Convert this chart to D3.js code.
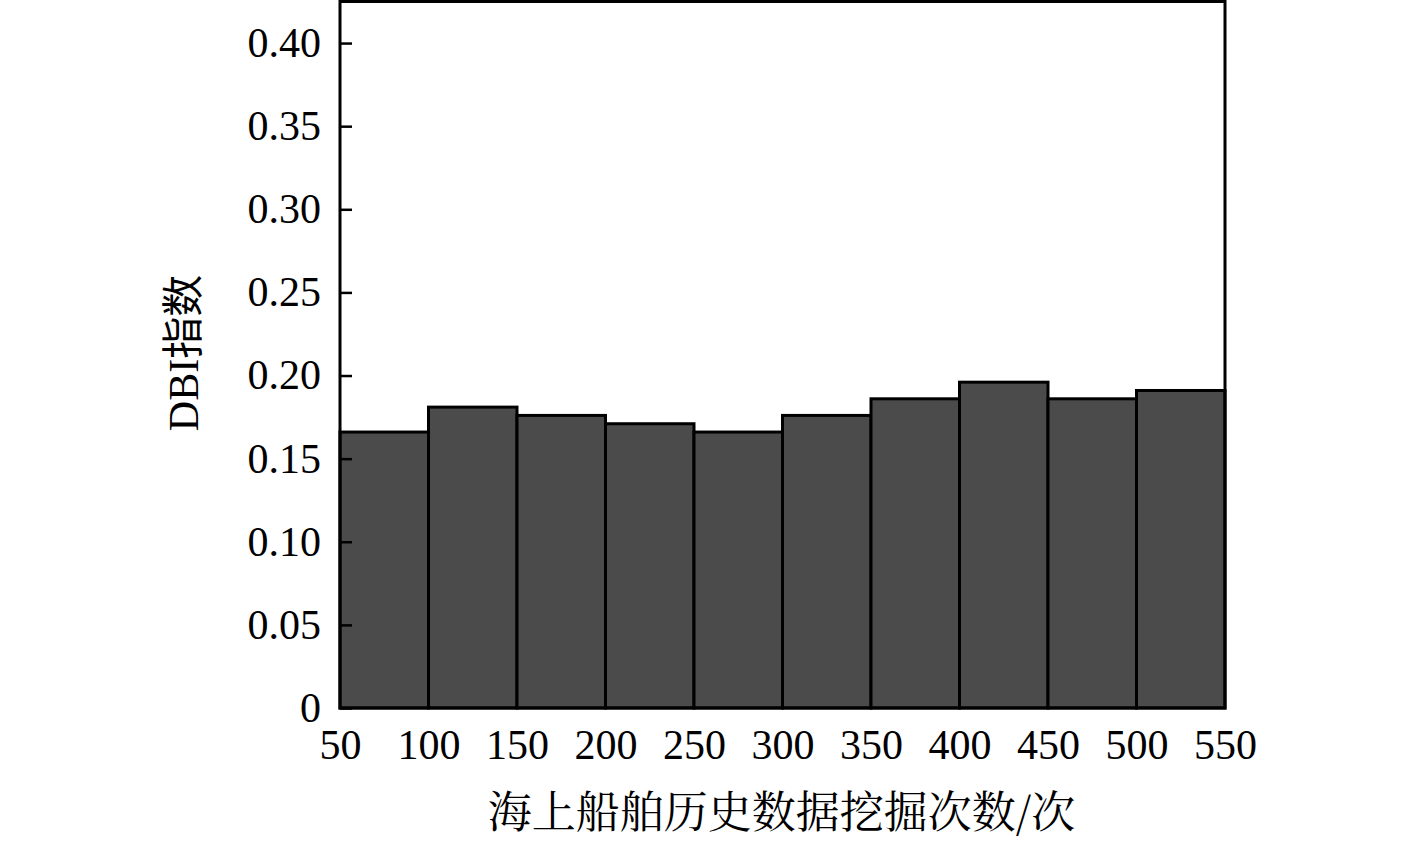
<!DOCTYPE html>
<html><head><meta charset="utf-8">
<script src="https://cdn.jsdelivr.net/npm/d3@7/dist/d3.min.js"></script>
<style>
html,body{margin:0;padding:0;background:#fff;}
svg{display:block;}
text{font-family:"Liberation Serif","Times New Roman","Noto Sans CJK SC",serif;fill:#000;}
</style></head>
<body>
<svg id="chart" width="1417" height="841"></svg>
<script>
const binStarts = [50,100,150,200,250,300,350,400,450,500];
const binWidth = 50;
const dbiValues = [0.166,0.181,0.176,0.171,0.166,0.176,0.186,0.196,0.186,0.191];
const xTicks = [50,100,150,200,250,300,350,400,450,500,550];
const yTicks = [0,0.05,0.10,0.15,0.20,0.25,0.30,0.35,0.40];
const yTickLabels = ["0","0.05","0.10","0.15","0.20","0.25","0.30","0.35","0.40"];
const xLabel = "海上船舶历史数据挖掘次数/次";
const yLabel = "DBI指数";

const svg = d3.select("#chart");
const L = 340, R = 1225, T = 1.5, B = 708;
const x = d3.scaleLinear().domain([50,550]).range([L,R]);
const y = d3.scaleLinear().domain([0,0.425]).range([B,T]);

// bars
svg.append("g").selectAll("rect").data(binStarts).join("rect")
  .attr("x", d => x(d))
  .attr("width", d => x(d+binWidth) - x(d))
  .attr("y", (d,i) => y(dbiValues[i]))
  .attr("height", (d,i) => y(0) - y(dbiValues[i]))
  .attr("fill", "#4b4b4b")
  .attr("stroke", "#000")
  .attr("stroke-width", 3);

// frame
svg.append("rect").attr("x", L).attr("y", T).attr("width", R-L).attr("height", B-T)
  .attr("fill","none").attr("stroke","#000").attr("stroke-width",3);

// y axis ticks (inward)
const yAxis = d3.axisLeft(y).tickValues(yTicks).tickSize(-12).tickPadding(19)
  .tickFormat((d,i) => yTickLabels[i]);
const gy = svg.append("g").attr("transform", `translate(${L},0)`).call(yAxis);
gy.select(".domain").remove();
gy.selectAll("line").attr("stroke","#000").attr("stroke-width",2.5);
gy.selectAll("text").attr("font-size",42).attr("dy","0.32em").attr("fill","#000");

// x axis labels (no ticks)
const xAxis = d3.axisBottom(x).tickValues(xTicks).tickSize(0).tickPadding(21).tickFormat(d3.format("d"));
const gx = svg.append("g").attr("transform", `translate(0,${B})`).call(xAxis);
gx.select(".domain").remove();
gx.selectAll("text").attr("font-size",42).attr("fill","#000");

// axis titles
svg.append("text").attr("x", (L+R)/2 - 1).attr("y", 828)
  .attr("text-anchor","middle").attr("font-size",44)
  .style("font-family",'"Noto Serif CJK SC","Noto Sans CJK SC","Liberation Serif",serif')
  .text(xLabel);
svg.append("text").attr("transform","translate(198,353) rotate(-90)")
  .attr("text-anchor","middle").attr("font-size",42)
  .text(yLabel);
</script>
</body></html>
